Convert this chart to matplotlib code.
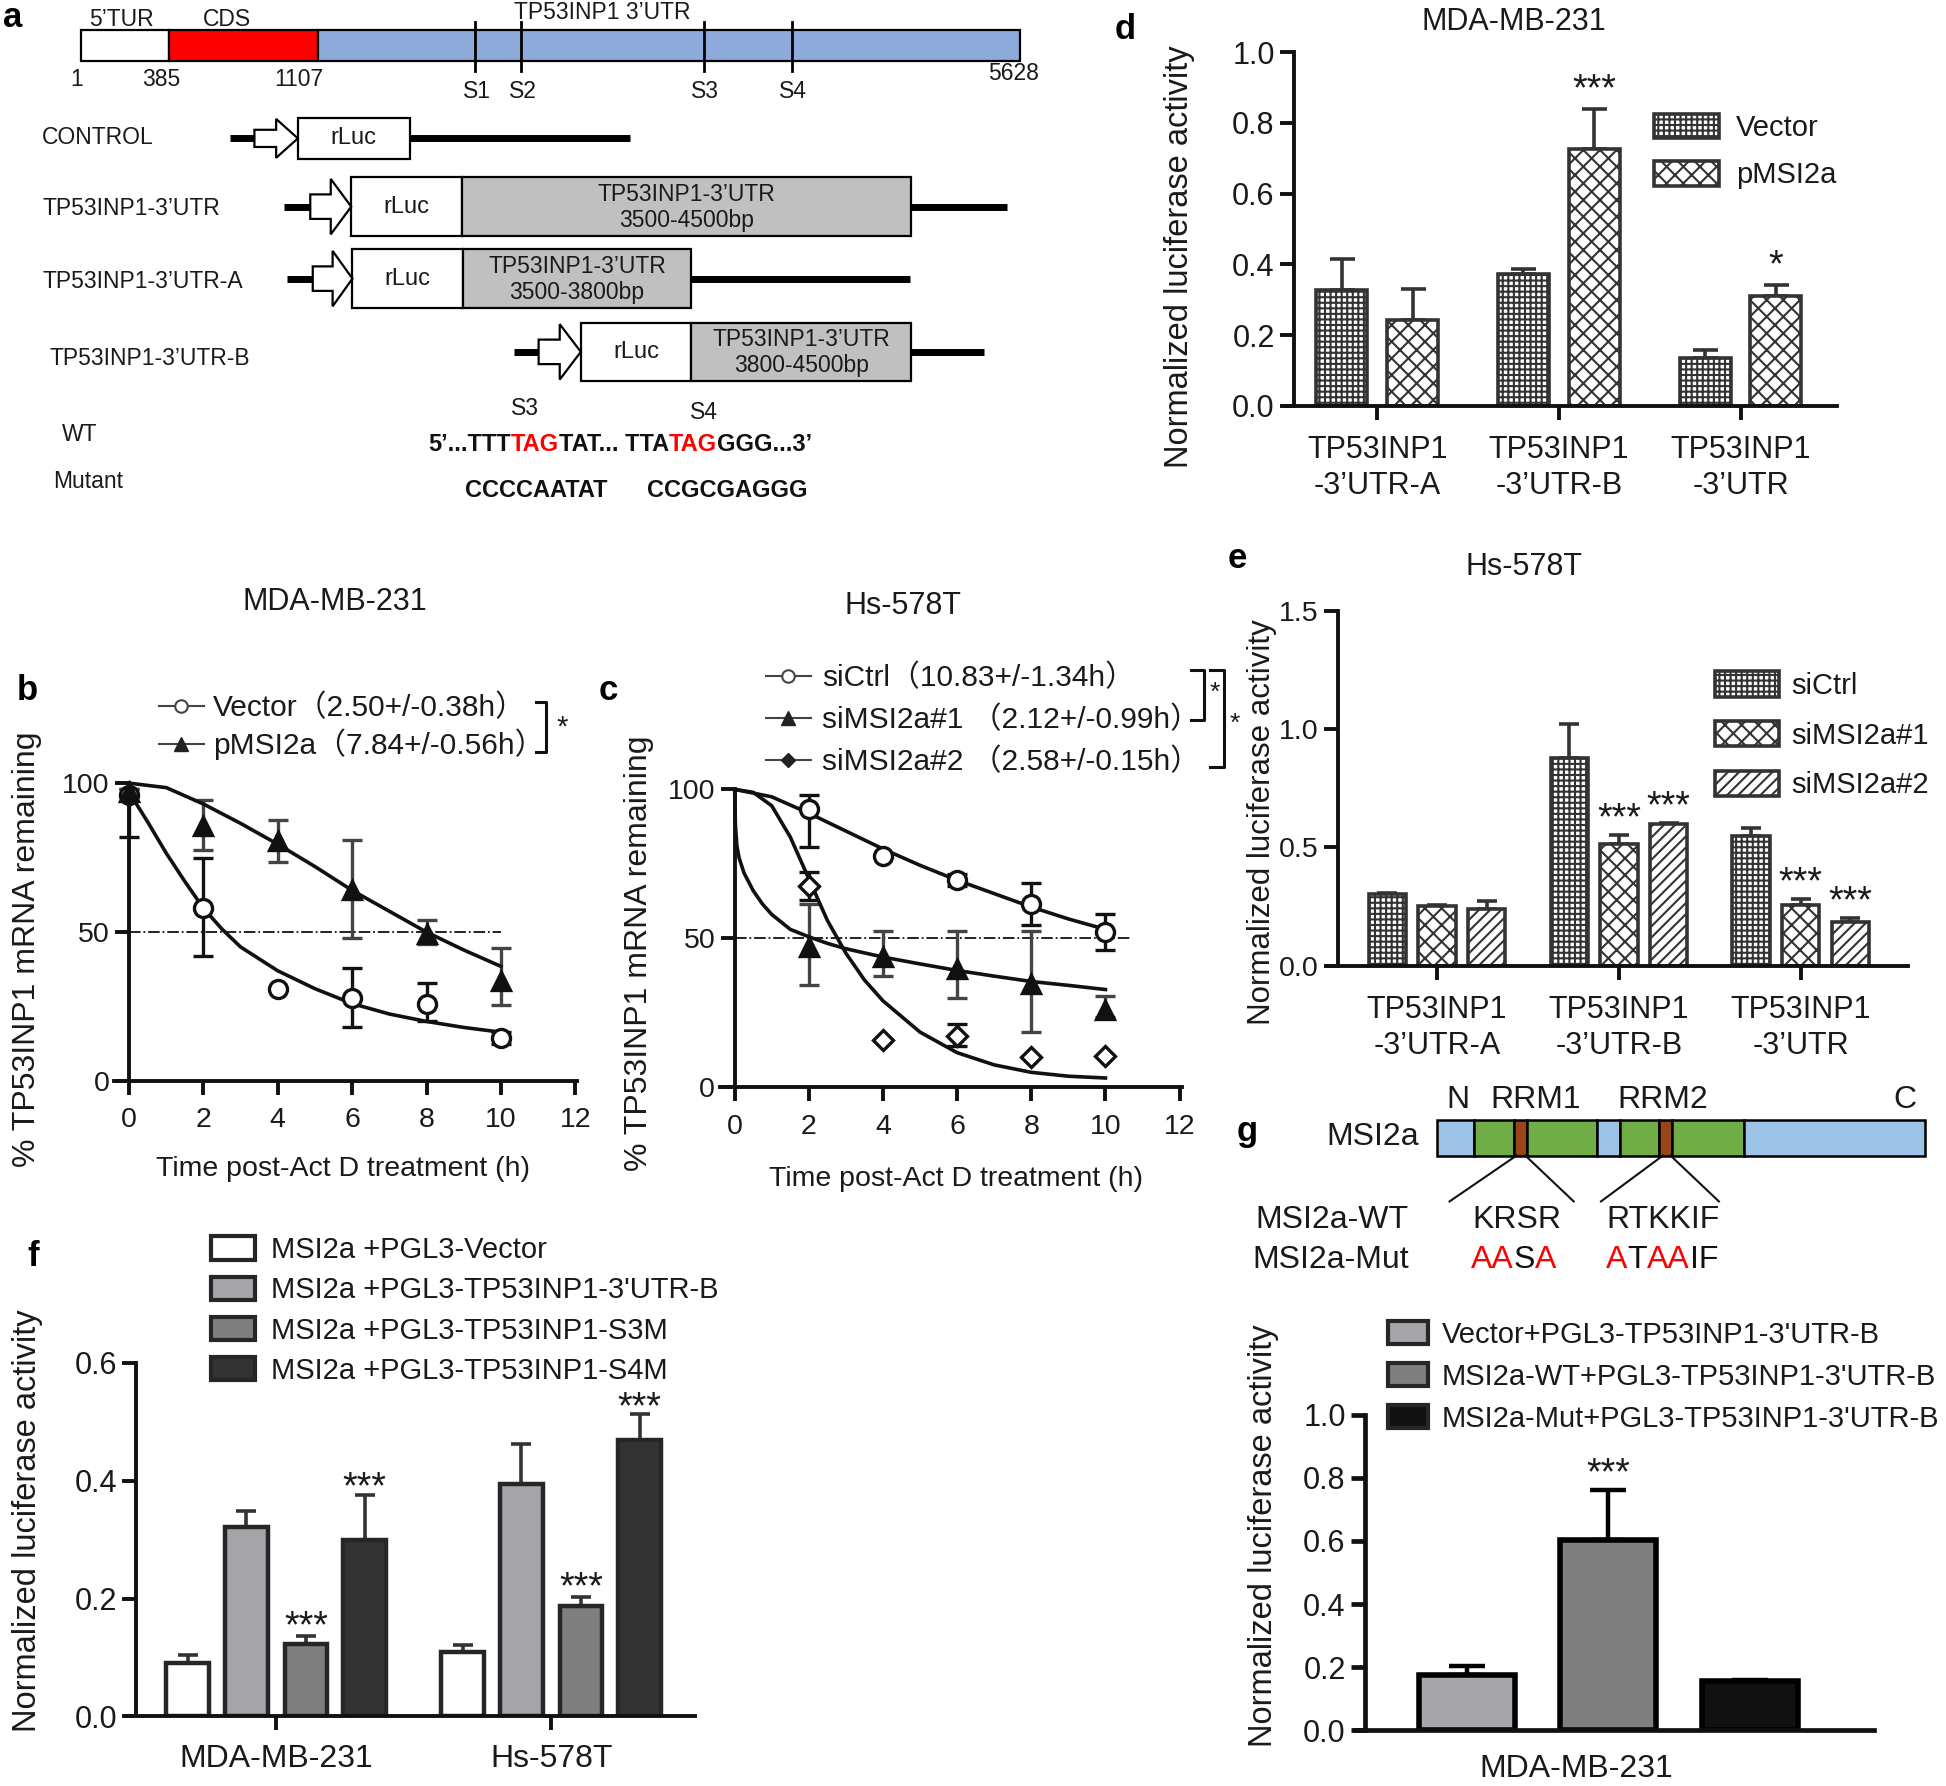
import numpy as np
import matplotlib
matplotlib.use("Agg")
import matplotlib.pyplot as plt
from matplotlib.patches import Rectangle, FancyArrow, Patch
from matplotlib.lines import Line2D
from matplotlib.ticker import FormatStrFormatter

plt.rcParams['font.family'] = ['Liberation Sans', 'Noto Sans CJK SC', 'DejaVu Sans']
plt.rcParams['hatch.linewidth'] = 1.5
plt.rcParams['text.color'] = '#1a1a1a'

# ---------------- data ----------------
# panel a
region_names = ["5’TUR", "CDS", "TP53INP1 3’UTR"]
position_names = ['1', '385', '1107', '5628']
site_names = ['S1', 'S2', 'S3', 'S4']
construct_names = ['CONTROL', 'TP53INP1-3’UTR', 'TP53INP1-3’UTR-A', 'TP53INP1-3’UTR-B']
construct_inserts = [None, '3500-4500bp', '3500-3800bp', '3800-4500bp']
wt_parts = ["5’...TTT", "TAG", "TAT... TTA", "TAG", "GGG...3’"]
wt_colors = ['#111111', 'red', '#111111', 'red', '#111111']
mut_s3 = 'CCCCAATAT'
mut_s4 = 'CCGCGAGGG'

# panel b (MDA-MB-231, mRNA decay)
time_b = [0, 2, 4, 6, 8, 10]
vec_mean = [96, 58, 31, 28, 26, 14.5]
vec_err_lo = [14, 16, 0, 10, 6, 2]
vec_err_hi = [2, 17, 0, 10, 7, 2]
pmsi_mean = [97, 85.5, 80.5, 64, 49.5, 33.5]
pmsi_err_lo = [1, 8, 7, 16, 3.5, 8]
pmsi_err_hi = [1, 9, 7, 17, 4.5, 11]
vec_fit_t = [0, 0.5, 1, 1.5, 2, 2.5, 3, 4, 5, 6, 7, 8, 9, 10]
vec_fit = [97, 87, 76.5, 67, 58, 51, 45, 37, 31, 26, 22.5, 20, 18, 16.4]
pmsi_fit_t = [0, 1, 2, 3, 4, 5, 6, 7, 8, 9, 10]
pmsi_fit = [100, 98.5, 93, 86.5, 79.5, 72, 64, 57, 50, 44, 38.5]
b_labels = ['Vector（2.50+/-0.38h）', 'pMSI2a（7.84+/-0.56h）']

# panel c (Hs-578T, mRNA decay)
time_c = [2, 4, 6, 8, 10]
ctrl_mean = [93.5, 77.5, 69.7, 61.5, 52.2]
ctrl_err_lo = [13, 0, 2, 7, 6]
ctrl_err_hi = [4.5, 0, 2, 7, 6]
si1_mean = [47, 43.7, 39.6, 34.8, 26]
si1_err_lo = [12.8, 6.4, 9.6, 16.4, 2.5]
si1_err_hi = [14.5, 8.6, 12.7, 17.5, 4.7]
si2_mean = [67.6, 15.7, 17.3, 10, 10.5]
si2_err_lo = [4.8, 0, 3.6, 0, 0]
si2_err_hi = [4.8, 0, 3.9, 0, 0]
ctrl_fit_t = [0, 1, 2, 3, 4, 5, 6, 7, 8, 9, 10]
ctrl_fit = [100, 97.5, 92, 86, 80, 74.5, 69.5, 65, 60.5, 56.5, 53]
si1_fit_t = [0, 0.02, 0.06, 0.12, 0.25, 0.5, 0.75, 1, 1.5, 2, 2.5, 3, 4, 5, 6, 7, 8, 9, 10]
si1_fit = [100, 88, 81, 77, 72, 66, 61.5, 58, 53, 50.5, 48.3, 46.5, 43.7, 41.4, 39.2, 37.3, 35.5, 34.2, 32.8]
si2_fit_t = [0, 0.5, 1, 1.5, 2, 2.5, 3, 3.5, 4, 5, 6, 7, 8, 9, 10]
si2_fit = [100, 99, 94.5, 84, 70, 56, 45, 36, 29, 18.5, 11.6, 7.5, 5, 3.7, 3.1]
c_labels = ['siCtrl（10.83+/-1.34h）', 'siMSI2a#1 （2.12+/-0.99h）', 'siMSI2a#2 （2.58+/-0.15h）']

# panel d / e (luciferase)
utr_groups = ["TP53INP1\n-3’UTR-A", "TP53INP1\n-3’UTR-B", "TP53INP1\n-3’UTR"]
d_vector = [0.327, 0.374, 0.136]
d_vector_err = [0.089, 0.012, 0.021]
d_pmsi = [0.242, 0.727, 0.31]
d_pmsi_err = [0.089, 0.113, 0.033]
d_pmsi_stars = ['', '***', '*']
e_sictrl = [0.302, 0.879, 0.548]
e_sictrl_err = [0.005, 0.143, 0.032]
e_si1 = [0.25, 0.514, 0.258]
e_si1_err = [0.008, 0.039, 0.022]
e_si2 = [0.241, 0.597, 0.183]
e_si2_err = [0.032, 0.004, 0.017]
e_si1_stars = ['', '***', '***']
e_si2_stars = ['', '***', '***']

# panel f
cell_lines = ['MDA-MB-231', 'Hs-578T']
f_labels = ['MSI2a +PGL3-Vector', "MSI2a +PGL3-TP53INP1-3'UTR-B",
            'MSI2a +PGL3-TP53INP1-S3M', 'MSI2a +PGL3-TP53INP1-S4M']
f_vector = [0.09, 0.109]
f_vector_err = [0.015, 0.012]
f_utrb = [0.322, 0.395]
f_utrb_err = [0.027, 0.068]
f_s3m = [0.123, 0.188]
f_s3m_err = [0.014, 0.015]
f_s4m = [0.30, 0.469]
f_s4m_err = [0.076, 0.044]
f_s3m_stars = ['***', '***']
f_s4m_stars = ['***', '***']

# panel g
msi2a_domains = ['N', 'RRM1', 'RRM2', 'C']
wt_motifs = ['KRSR', 'RTKKIF']
mut1_parts, mut1_colors = ['AA', 'S', 'A'], ['red', '#111111', 'red']
mut2_parts, mut2_colors = ['A', 'T', 'AA', 'IF'], ['red', '#111111', 'red', '#111111']
g_labels = ["Vector+PGL3-TP53INP1-3'UTR-B", "MSI2a-WT+PGL3-TP53INP1-3'UTR-B",
            "MSI2a-Mut+PGL3-TP53INP1-3'UTR-B"]
g_values = [0.174, 0.604, 0.155]
g_errs = [0.029, 0.158, 0.005]
g_stars = ['', '***', '']

# ---------------- layout helpers ----------------
W, H = 1568, 1439   # layout grid (reference pixels)
INK = '#1a1a1a'


def fig_rect(x0, y0, x1, y1):
    return [x0 / W, 1 - y1 / H, (x1 - x0) / W, (y1 - y0) / H]


def fig_pt(x, y):
    return (x / W, 1 - y / H)


def graphpad_axes(ax, spine_x, ymax, labelsize, lw=2.8, xpad=4):
    ax.patch.set_visible(False)
    for side in ('top', 'right'):
        ax.spines[side].set_visible(False)
    ax.spines['left'].set_position(('data', spine_x))
    ax.spines['left'].set_bounds(0, ymax)
    for side in ('left', 'bottom'):
        ax.spines[side].set_linewidth(lw)
        ax.spines[side].set_color('#111111')
    ax.tick_params(width=lw, length=10, labelsize=labelsize, pad=4,
                   color='#111111', labelcolor=INK)
    ax.tick_params(axis='x', pad=xpad)


def up_errors(ax, x, vals, errs, color='#333333', capsize=9, lw=2.6):
    ax.errorbar(x, vals, yerr=[np.zeros(len(vals)), errs], fmt='none', ecolor=color,
                elinewidth=lw, capsize=capsize, capthick=lw, zorder=1)


def star_marks(ax, x, vals, errs, marks, pad, size=27):
    for xi, v, e, m in zip(x, vals, errs, marks):
        if m:
            ax.text(xi, v + e + pad, m, ha='center', va='bottom', fontsize=size)


def colored_text(ax, x, y, parts, colors, **kw):
    t = ax.text(x, y, parts[0], color=colors[0], ha='left', va='center', **kw)
    for p, c in zip(parts[1:], colors[1:]):
        t = ax.annotate(p, xy=(1, 0), xycoords=t, va='bottom', ha='left', color=c, **kw)
    return t


def decay_points(ax, t, mean, lo, hi, marker, mfc, ecolor, ms):
    ax.errorbar(t, mean, yerr=[lo, hi], fmt='none', ecolor=ecolor, elinewidth=2.4,
                capsize=7, capthick=2.4, zorder=3)
    ax.plot(t, mean, linestyle='none', marker=marker, ms=ms, mfc=mfc, mec='#111111',
            mew=2.4, zorder=5, clip_on=False)


fig = plt.figure(figsize=(19.46, 17.86), dpi=100)
ov = fig.add_axes([0, 0, 1, 1])
ov.set_xlim(0, W)
ov.set_ylim(H, 0)
ov.axis('off')

# panel letters
for letter, x, y in [('a', 10, 14), ('d', 907, 24), ('b', 22, 556), ('c', 490, 556),
                     ('e', 997, 450), ('f', 27, 1012), ('g', 1005, 912)]:
    ov.text(x, y, letter, fontsize=25, fontweight='bold', color='black', ha='center', va='center')

# ---------------- a: constructs ----------------
bar_edges = [65, 136, 256, 822]
bar_colors = ['white', '#ff0000', '#8eaadb']
for x0, x1, c in zip(bar_edges[:-1], bar_edges[1:], bar_colors):
    ov.add_patch(Rectangle((x0, 24), x1 - x0, 25, facecolor=c, edgecolor='black', lw=1.6))
for x, name in zip([383, 420, 567, 638], site_names):
    ov.plot([x, x], [18, 57], color='black', lw=2)
    ov.text(x + 1, 74, name, ha='center', va='center', fontsize=16.5)
for (x, y), name in zip([(98, 16), (183, 16), (485, 10)], region_names):
    ov.text(x, y, name, ha='center', va='center', fontsize=16.5)
for (x, y), name in zip([(62, 64), (130, 64), (241, 64), (817, 59)], position_names):
    ov.text(x, y, name, ha='center', va='center', fontsize=16.5)

# y_top, y_bot, line start, arrow start, box start, split, insert end, tail end, label x, label y
rows = [(95, 128, 185, 205, 240, 330, 330, 508, 34, 111),
        (143, 190, 229, 250, 283, 372, 734, 811, 34, 168),
        (201, 248, 231, 252, 284, 373, 557, 733, 34, 227),
        (260, 307, 414, 434, 468, 557, 734, 793, 40, 289)]
for row, name, insert in zip(rows, construct_names, construct_inserts):
    y0, y1, xl, xa, xb, xs, xe, xt, lx, ly = row
    yc = (y0 + y1) / 2
    h = y1 - y0
    ov.text(lx, ly, name, ha='left', va='center', fontsize=16.5)
    ov.plot([xl, xa + 4], [yc, yc], color='black', lw=5, solid_capstyle='butt')
    ov.add_patch(FancyArrow(xa, yc, xb - xa, 0, width=h * 0.42, head_width=h * 0.95,
                            head_length=(xb - xa) * 0.5, length_includes_head=True,
                            facecolor='white', edgecolor='black', lw=1.6, zorder=3))
    ov.add_patch(Rectangle((xb, y0), xs - xb, h, facecolor='white', edgecolor='black', lw=1.6))
    ov.text((xb + xs) / 2, yc, 'rLuc', ha='center', va='center', fontsize=17)
    if insert:
        ov.add_patch(Rectangle((xs, y0), xe - xs, h, facecolor='#c0c0c0', edgecolor='black', lw=1.6))
        ov.text((xs + xe) / 2, yc - 10, 'TP53INP1-3’UTR', ha='center', va='center', fontsize=16.5)
        ov.text((xs + xe) / 2, yc + 11, insert, ha='center', va='center', fontsize=16.5)
    ov.plot([xe, xt], [yc, yc], color='black', lw=5, solid_capstyle='butt', zorder=1)

ov.text(423, 329, 'S3', ha='center', va='center', fontsize=16.5)
ov.text(567, 332, 'S4', ha='center', va='center', fontsize=16.5)
ov.text(50, 350, 'WT', ha='left', va='center', fontsize=16.5)
ov.text(43, 388, 'Mutant', ha='left', va='center', fontsize=16.5)
colored_text(ov, 345, 358, wt_parts, wt_colors, fontsize=17, fontweight='bold')
ov.text(375, 395, mut_s3, ha='left', va='center', fontsize=17, fontweight='bold', color='#111111')
ov.text(521, 395, mut_s4, ha='left', va='center', fontsize=17, fontweight='bold', color='#111111')

# ---------------- b: decay MDA-MB-231 ----------------
axb = fig.add_axes(fig_rect(92, 631, 465, 871))
axb.set_xlim(-0.4, 12.05)
axb.set_ylim(0, 100)
graphpad_axes(axb, 0, 100, 20.5, xpad=9)
axb.set_xticks(range(0, 13, 2))
axb.set_yticks([0, 50, 100])
axb.plot([0, 10], [50, 50], color='#111111', lw=1.3, linestyle='-.', zorder=1)
axb.plot(vec_fit_t, vec_fit, color='#111111', lw=2.6, zorder=4, clip_on=False)
axb.plot(pmsi_fit_t, pmsi_fit, color='#111111', lw=2.6, zorder=4, clip_on=False)
decay_points(axb, time_b, vec_mean, vec_err_lo, vec_err_hi, 'o', 'white', '#111111', 13)
decay_points(axb, time_b, pmsi_mean, pmsi_err_lo, pmsi_err_hi, '^', '#111111', '#444444', 13)
hb = [Line2D([], [], color='#444444', lw=1.5, marker='o', ms=9, mfc='white', mec='#444444', mew=1.5),
      Line2D([], [], color='#444444', lw=1.5, marker='^', ms=10, mfc='#222222', mec='#222222')]
axb.legend(hb, b_labels, loc='upper left', bbox_to_anchor=fig_pt(128, 559),
           bbox_transform=fig.transFigure, frameon=False, fontsize=21.5, handlelength=1.5,
           handletextpad=0.3, labelspacing=0.22, borderpad=0, borderaxespad=0)
ov.plot([432, 440, 440, 432], [566, 566, 606, 606], color='#111111', lw=2.2)
ov.text(453, 586, '*', ha='center', va='center', fontsize=21)
ov.text(270, 485, 'MDA-MB-231', ha='center', va='center', fontsize=22)
ov.text(22, 765, '% TP53INP1 mRNA remaining', rotation=90, ha='center', va='center', fontsize=23)
ov.text(276, 942, 'Time post-Act D treatment (h)', ha='center', va='center', fontsize=20.5)

# ---------------- c: decay Hs-578T ----------------
axc = fig.add_axes(fig_rect(580, 636, 952, 876))
axc.set_xlim(-0.4, 12.05)
axc.set_ylim(0, 100)
graphpad_axes(axc, 0, 100, 20.5, xpad=9)
axc.set_xticks(range(0, 13, 2))
axc.set_yticks([0, 50, 100])
axc.plot([0, 10.7], [50, 50], color='#111111', lw=1.3, linestyle='-.', zorder=1)
for ft, fy in [(ctrl_fit_t, ctrl_fit), (si1_fit_t, si1_fit), (si2_fit_t, si2_fit)]:
    axc.plot(ft, fy, color='#111111', lw=2.6, zorder=4, clip_on=False)
decay_points(axc, time_c, ctrl_mean, ctrl_err_lo, ctrl_err_hi, 'o', 'white', '#111111', 13)
decay_points(axc, time_c, si1_mean, si1_err_lo, si1_err_hi, '^', '#111111', '#444444', 13)
decay_points(axc, time_c, si2_mean, si2_err_lo, si2_err_hi, 'D', 'white', '#111111', 10)
hc = [Line2D([], [], color='#444444', lw=1.5, marker='o', ms=9, mfc='white', mec='#444444', mew=1.5),
      Line2D([], [], color='#444444', lw=1.5, marker='^', ms=10, mfc='#222222', mec='#222222'),
      Line2D([], [], color='#444444', lw=1.5, marker='D', ms=7, mfc='#222222', mec='#222222')]
axc.legend(hc, c_labels, loc='upper left', bbox_to_anchor=fig_pt(617, 535),
           bbox_transform=fig.transFigure, frameon=False, fontsize=21.5, handlelength=1.5,
           handletextpad=0.4, labelspacing=0.45, borderpad=0, borderaxespad=0)
ov.plot([960, 970, 970, 960], [540, 540, 580, 580], color='#111111', lw=2.2)
ov.plot([975, 986, 986, 975], [540, 540, 618, 618], color='#111111', lw=2.2)
ov.text(979, 558, '*', ha='center', va='center', fontsize=19)
ov.text(995, 583, '*', ha='center', va='center', fontsize=19)
ov.text(728, 488, 'Hs-578T', ha='center', va='center', fontsize=22)
ov.text(515, 768, '% TP53INP1 mRNA remaining', rotation=90, ha='center', va='center', fontsize=23)
ov.text(770, 950, 'Time post-Act D treatment (h)', ha='center', va='center', fontsize=20.5)

# ---------------- d: luciferase MDA-MB-231 ----------------
axd = fig.add_axes(fig_rect(1035, 42, 1480, 327))
axd.set_xlim(-0.51, 2.53)
axd.set_ylim(0, 1.0)
graphpad_axes(axd, -0.457, 1.0, 22, xpad=11)
xd = np.arange(len(utr_groups))
off_d, wd = 0.195, 0.28
axd.bar(xd - off_d, d_vector, wd, color='white', edgecolor='#333333', lw=2.6, hatch='+++', zorder=2)
axd.bar(xd + off_d, d_pmsi, wd, color='white', edgecolor='#333333', lw=2.6, hatch='xx', zorder=2)
up_errors(axd, xd - off_d, d_vector, d_vector_err)
up_errors(axd, xd + off_d, d_pmsi, d_pmsi_err)
star_marks(axd, xd + off_d, d_pmsi, d_pmsi_err, d_pmsi_stars, 0.0)
axd.set_xticks(xd)
axd.set_xticklabels(utr_groups, linespacing=1.25)
axd.set_yticks(np.arange(0, 1.01, 0.2))
axd.yaxis.set_major_formatter(FormatStrFormatter('%.1f'))
hd = [Patch(facecolor='white', edgecolor='#333333', lw=2.6, hatch='+++'),
      Patch(facecolor='white', edgecolor='#333333', lw=2.6, hatch='xx')]
axd.legend(hd, ['Vector', 'pMSI2a'], loc='upper left', bbox_to_anchor=fig_pt(1333, 92),
           bbox_transform=fig.transFigure, frameon=False, fontsize=21, handlelength=2.2,
           handleheight=0.9, handletextpad=0.6, labelspacing=0.65, borderpad=0, borderaxespad=0)
ov.text(1220, 18, 'MDA-MB-231', ha='center', va='center', fontsize=22)
ov.text(950, 207, 'Normalized luciferase activity', rotation=90, ha='center', va='center', fontsize=23.5)

# ---------------- e: luciferase Hs-578T ----------------
axe = fig.add_axes(fig_rect(1070, 492, 1537, 778))
axe.set_xlim(-0.60, 2.587)
axe.set_ylim(0, 1.5)
graphpad_axes(axe, -0.546, 1.5, 20.5, xpad=11)
xe = np.arange(len(utr_groups))
off_e, we = 0.273, 0.205
for k, (vals, errs, hatch) in enumerate([(e_sictrl, e_sictrl_err, '+++'), (e_si1, e_si1_err, 'xx'),
                                         (e_si2, e_si2_err, '///')]):
    pos = xe + (k - 1) * off_e
    axe.bar(pos, vals, we, color='white', edgecolor='#333333', lw=2.6, hatch=hatch, zorder=2)
    up_errors(axe, pos, vals, errs, capsize=7)
star_marks(axe, xe, e_si1, e_si1_err, e_si1_stars, -0.01)
star_marks(axe, xe + off_e, e_si2, e_si2_err, e_si2_stars, -0.01)
axe.set_xticks(xe)
axe.set_xticklabels(utr_groups, linespacing=1.25, fontsize=22)
axe.set_yticks([0, 0.5, 1.0, 1.5])
axe.yaxis.set_major_formatter(FormatStrFormatter('%.1f'))
he = [Patch(facecolor='white', edgecolor='#333333', lw=2.6, hatch=h) for h in ['+++', 'xx', '///']]
axe.legend(he, ['siCtrl', 'siMSI2a#1', 'siMSI2a#2'], loc='upper left', bbox_to_anchor=fig_pt(1382, 541),
           bbox_transform=fig.transFigure, frameon=False, fontsize=21, handlelength=2.2,
           handleheight=0.95, handletextpad=0.4, labelspacing=0.72, borderpad=0, borderaxespad=0)
ov.text(1228, 457, 'Hs-578T', ha='center', va='center', fontsize=22)
ov.text(1017, 662, 'Normalized luciferase activity', rotation=90, ha='center', va='center', fontsize=22.5)

# ---------------- f: luciferase mutants ----------------
axf = fig.add_axes(fig_rect(102, 1098, 560, 1383))
axf.set_xlim(-0.544, 1.523)
axf.set_ylim(0, 0.6)
graphpad_axes(axf, -0.508, 0.6, 22, xpad=10)
xf = np.arange(len(cell_lines))
f_series = [(f_vector, f_vector_err, 'white'), (f_utrb, f_utrb_err, '#a5a5a9'),
            (f_s3m, f_s3m_err, '#7f7f7f'), (f_s4m, f_s4m_err, '#333333')]
f_offsets = [-0.322, -0.108, 0.108, 0.322]
for (vals, errs, col), off in zip(f_series, f_offsets):
    axf.bar(xf + off, vals, 0.155, color=col, edgecolor='#262626', lw=3.2, zorder=2)
    up_errors(axf, xf + off, vals, errs, capsize=7)
star_marks(axf, xf + f_offsets[2], f_s3m, f_s3m_err, f_s3m_stars, -0.016)
star_marks(axf, xf + f_offsets[3], f_s4m, f_s4m_err, f_s4m_stars, -0.02)
axf.set_xticks(xf)
axf.set_xticklabels(cell_lines, fontsize=23)
axf.set_yticks(np.arange(0, 0.61, 0.2))
axf.yaxis.set_major_formatter(FormatStrFormatter('%.1f'))
hf = [Patch(facecolor=col, edgecolor='#262626', lw=3) for _, _, col in f_series]
axf.legend(hf, f_labels, loc='upper left', bbox_to_anchor=fig_pt(170, 996),
           bbox_transform=fig.transFigure, frameon=False, fontsize=21, handlelength=1.5,
           handleheight=0.85, handletextpad=0.55, labelspacing=0.42, borderpad=0, borderaxespad=0)
ov.text(22, 1225, 'Normalized luciferase activity', rotation=90, ha='center', va='center', fontsize=23.5)

# ---------------- g: MSI2a schematic ----------------
dom_edges = [1158, 1188, 1220, 1230, 1287, 1305, 1337, 1347, 1405, 1551]
dom_colors = ['#9dc3e6', '#70ad47', '#994518', '#70ad47', '#9dc3e6',
              '#70ad47', '#994518', '#70ad47', '#9dc3e6']
for x0, x1, c in zip(dom_edges[:-1], dom_edges[1:], dom_colors):
    ov.add_patch(Rectangle((x0, 902), x1 - x0, 29, facecolor=c, edgecolor='black', lw=1.8))
for x, name in zip([1175, 1237, 1340, 1535], msi2a_domains):
    ov.text(x, 886, name, ha='center', va='center', fontsize=23)
ov.text(1143, 916, 'MSI2a', ha='right', va='center', fontsize=23)
for xa, xb in [(1222, 1168), (1229, 1268), (1340, 1290), (1346, 1385)]:
    ov.plot([xa, xb], [931, 968], color='#111111', lw=1.5)
ov.text(1073, 983, 'MSI2a-WT', ha='center', va='center', fontsize=23)
ov.text(1072, 1015, 'MSI2a-Mut', ha='center', va='center', fontsize=23)
ov.text(1222, 983, wt_motifs[0], ha='center', va='center', fontsize=23)
ov.text(1340, 983, wt_motifs[1], ha='center', va='center', fontsize=23)
colored_text(ov, 1185, 1015, mut1_parts, mut1_colors, fontsize=23)
colored_text(ov, 1294, 1015, mut2_parts, mut2_colors, fontsize=23)

# ---------------- g: luciferase MSI2a-WT / Mut ----------------
axg = fig.add_axes(fig_rect(1092, 1140, 1510, 1394))
axg.set_xlim(-0.79, 2.88)
axg.set_ylim(0, 1.0)
graphpad_axes(axg, -0.72, 1.0, 22, lw=3.4)
xg = np.arange(len(g_values))
g_colors = ['#a6a6aa', '#7f7f7f', '#111111']
axg.bar(xg, g_values, 0.68, color=g_colors, edgecolor='black', lw=4, zorder=2)
up_errors(axg, xg, g_values, g_errs, color='black', capsize=13, lw=3.2)
star_marks(axg, xg, g_values, g_errs, g_stars, -0.008)
axg.set_xticks([])
axg.set_yticks(np.arange(0, 1.01, 0.2))
axg.yaxis.set_major_formatter(FormatStrFormatter('%.1f'))
hg = [Patch(facecolor=c, edgecolor='#262626', lw=3) for c in g_colors]
axg.legend(hg, g_labels, loc='upper left', bbox_to_anchor=fig_pt(1118, 1064),
           bbox_transform=fig.transFigure, frameon=False, fontsize=21, handlelength=1.4,
           handleheight=0.85, handletextpad=0.45, labelspacing=0.48, borderpad=0, borderaxespad=0)
ov.text(1270, 1425, 'MDA-MB-231', ha='center', va='center', fontsize=23)
ov.text(1018, 1237, 'Normalized luciferase activity', rotation=90, ha='center', va='center', fontsize=23.5)

fig.savefig('out.png', dpi=100)
